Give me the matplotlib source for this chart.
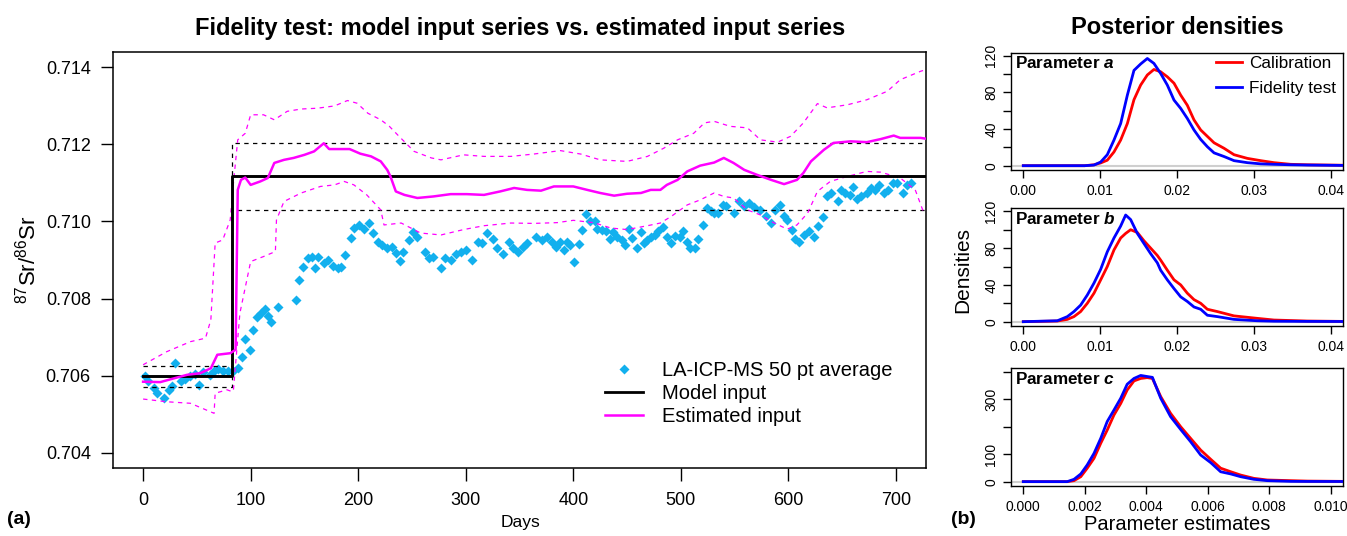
import numpy as np
import matplotlib
matplotlib.use("Agg")
import matplotlib.pyplot as plt
from matplotlib.lines import Line2D

plt.rcParams['font.family'] = ['Liberation Sans', 'DejaVu Sans']
plt.rcParams['mathtext.fontset'] = 'custom'
plt.rcParams['mathtext.rm'] = 'Liberation Sans'
plt.rcParams['mathtext.it'] = 'Liberation Sans:italic'
plt.rcParams['mathtext.bf'] = 'Liberation Sans:bold'
try:
    plt.rcParams['mathtext.bfit'] = 'Liberation Sans:italic:bold'
except KeyError:
    pass

# ---------------- data: main panel ----------------
meas_days = [2, 5, 10, 13, 19, 24, 27, 30, 35, 39, 44, 48, 52, 56, 62, 66, 70, 74, 79, 84,
             88, 92, 95, 99, 102, 106, 110, 113, 116, 119, 125, 142, 145, 149, 153, 157, 160, 163, 168, 172,
             177, 181, 184, 188, 193, 196, 201, 205, 210, 214, 218, 222, 227, 231, 235, 239, 242, 247, 251, 255,
             262, 266, 270, 277, 281, 286, 291, 296, 300, 306, 311, 315, 320, 325, 329, 335, 340, 344, 349, 353,
             357, 365, 371, 376, 380, 384, 388, 391, 394, 397, 401, 405, 408, 412, 416, 420, 422, 427, 430, 434,
             437, 441, 445, 448, 452, 455, 459, 463, 466, 469, 472, 476, 479, 483, 487, 491, 495, 499, 502, 506,
             509, 513, 516, 521, 524, 528, 531, 535, 539, 542, 549, 554, 559, 563, 568, 574, 579, 584, 588, 592,
             596, 599, 603, 606, 610, 615, 619, 624, 628, 632, 636, 640, 646, 649, 653, 657, 660, 664, 668, 673,
             677, 681, 684, 689, 693, 697, 701, 707, 710, 714]
meas_vals = [0.70598, 0.70585, 0.70567, 0.70554, 0.70541, 0.70563, 0.70573, 0.70632, 0.70585, 0.70591,
             0.70598, 0.70604, 0.70576, 0.70608, 0.70602, 0.70611, 0.70617, 0.70613, 0.70611, 0.70611,
             0.70619, 0.70649, 0.70695, 0.70667, 0.70717, 0.70752, 0.70762, 0.70773, 0.70755, 0.70740,
             0.70778, 0.70795, 0.70849, 0.70883, 0.70905, 0.70908, 0.70879, 0.70908, 0.70892, 0.70901,
             0.70885, 0.70880, 0.70882, 0.70914, 0.70957, 0.70983, 0.70991, 0.70980, 0.70996, 0.70970,
             0.70948, 0.70940, 0.70931, 0.70935, 0.70918, 0.70898, 0.70922, 0.70951, 0.70973, 0.70961,
             0.70920, 0.70905, 0.70909, 0.70879, 0.70905, 0.70901, 0.70916, 0.70922, 0.70927, 0.70901,
             0.70948, 0.70944, 0.70970, 0.70954, 0.70931, 0.70916, 0.70948, 0.70931, 0.70920, 0.70935,
             0.70944, 0.70961, 0.70953, 0.70961, 0.70948, 0.70935, 0.70948, 0.70927, 0.70948, 0.70940,
             0.70896, 0.70942, 0.70977, 0.71020, 0.71000, 0.71000, 0.70980, 0.70977, 0.70974, 0.70954,
             0.70972, 0.70961, 0.70953, 0.70940, 0.70980, 0.70957, 0.70931, 0.70972, 0.70945, 0.70953,
             0.70961, 0.70966, 0.70974, 0.70986, 0.70961, 0.70944, 0.70963, 0.70961, 0.70974, 0.70948,
             0.70931, 0.70931, 0.70954, 0.70990, 0.71035, 0.71026, 0.71022, 0.71023, 0.71043, 0.71039,
             0.71023, 0.71052, 0.71039, 0.71048, 0.71037, 0.71029, 0.71013, 0.70997, 0.71029, 0.71043,
             0.71013, 0.71004, 0.70978, 0.70954, 0.70948, 0.70966, 0.70974, 0.70961, 0.70987, 0.71011,
             0.71067, 0.71074, 0.71052, 0.71081, 0.71074, 0.71069, 0.71089, 0.71058, 0.71067, 0.71074,
             0.71087, 0.71082, 0.71095, 0.71074, 0.71081, 0.71101, 0.71101, 0.71074, 0.71095, 0.71101]

# model input (step) and its dashed bounds
model_days = [0, 83, 83, 730]
model_vals = [0.70598, 0.70598, 0.71118, 0.71118]
model_up = [0.70625, 0.70625, 0.71204, 0.71204]
model_lo = [0.70569, 0.70569, 0.71030, 0.71030]

# estimated input series
est_days = [0, 16, 29, 41, 53, 63, 69, 81, 86, 88, 91, 95, 100, 109, 116, 122, 131, 140, 150, 159,
            168, 173, 184, 192, 202, 212, 221, 227, 230, 235, 243, 255, 270, 286, 301, 317, 332, 345, 357, 370,
            382, 400, 413, 425, 438, 450, 463, 472, 481, 487, 497, 506, 518, 531, 540, 549, 559, 571, 584, 596,
            608, 614, 621, 633, 642, 658, 673, 686, 698, 704, 723, 730]
est_vals = [0.70584, 0.70583, 0.70593, 0.70602, 0.70606, 0.70619, 0.70654, 0.70658, 0.70667, 0.71082,
            0.71108, 0.71114, 0.71095, 0.71104, 0.71113, 0.71152, 0.71160, 0.71165, 0.71173, 0.71182,
            0.71203, 0.71188, 0.71188, 0.71188, 0.71176, 0.71169, 0.71156, 0.71134, 0.71117, 0.71078,
            0.71069, 0.71061, 0.71065, 0.71071, 0.71071, 0.71069, 0.71078, 0.71087, 0.71082, 0.71080,
            0.71091, 0.71091, 0.71082, 0.71074, 0.71067, 0.71072, 0.71074, 0.71082, 0.71082, 0.71095,
            0.71108, 0.71130, 0.71145, 0.71153, 0.71165, 0.71152, 0.71134, 0.71121, 0.71108, 0.71097,
            0.71108, 0.71126, 0.71156, 0.71186, 0.71204, 0.71208, 0.71206, 0.71214, 0.71223, 0.71217,
            0.71217, 0.71214]

est_up_days = [0, 22, 44, 58, 63, 67, 74, 81, 84, 88, 95, 100, 112, 122, 134, 147, 162, 178, 190, 199,
               209, 221, 229, 238, 252, 268, 277, 298, 317, 342, 363, 388, 407, 425, 450, 469, 484, 497, 512, 522,
               531, 546, 562, 574, 590, 602, 614, 627, 636, 655, 673, 692, 704, 723, 730]
est_up_vals = [0.70628, 0.70662, 0.70688, 0.70697, 0.70745, 0.70944, 0.70952, 0.71004, 0.71100, 0.71212,
               0.71229, 0.71277, 0.71277, 0.71264, 0.71286, 0.71292, 0.71294, 0.71300, 0.71314, 0.71307,
               0.71281, 0.71264, 0.71247, 0.71221, 0.71182, 0.71165, 0.71160, 0.71173, 0.71169, 0.71169,
               0.71175, 0.71184, 0.71175, 0.71160, 0.71156, 0.71169, 0.71190, 0.71212, 0.71229, 0.71256,
               0.71260, 0.71247, 0.71243, 0.71212, 0.71206, 0.71221, 0.71256, 0.71306, 0.71295, 0.71303,
               0.71316, 0.71338, 0.71368, 0.71390, 0.71396]

est_lo_days = [0, 22, 44, 66, 67, 78, 83, 84, 90, 100, 112, 123, 124, 131, 147, 165, 178, 187, 196, 208,
               221, 224, 240, 258, 277, 298, 317, 342, 363, 385, 400, 419, 435, 450, 469, 481, 491, 506, 518, 531,
               540, 549, 562, 574, 584, 599, 608, 618, 627, 639, 655, 673, 686, 704, 718, 726]
est_lo_vals = [0.70539, 0.70532, 0.70528, 0.70502, 0.70554, 0.70563, 0.70558, 0.70563, 0.70762, 0.70896,
               0.70909, 0.70922, 0.71004, 0.71052, 0.71074, 0.71091, 0.71095, 0.71104, 0.71095, 0.71069,
               0.71030, 0.70991, 0.70996, 0.70970, 0.70965, 0.70979, 0.70989, 0.70996, 0.70995, 0.70997,
               0.71003, 0.70997, 0.70983, 0.70979, 0.70989, 0.70996, 0.71013, 0.71043, 0.71056, 0.71074,
               0.71065, 0.71061, 0.71030, 0.71017, 0.71000, 0.70980, 0.70991, 0.71022, 0.71078, 0.71104,
               0.71117, 0.71130, 0.71128, 0.71113, 0.71082, 0.71022]

# ---------------- data: posterior densities ----------------
a_x = [0.0, 0.00798, 0.0092, 0.01007, 0.01093, 0.0118, 0.01267, 0.01354, 0.0144, 0.01527, 0.01614,
       0.017, 0.01787, 0.01874, 0.01961, 0.02048, 0.02134, 0.02221, 0.02308, 0.02395, 0.02482, 0.02612,
       0.02742, 0.02915, 0.03089, 0.03262, 0.03479, 0.03696, 0.04165]
a_cal = [0, 0, 1, 3, 6, 15, 28, 46, 72, 88, 99, 105, 102.5, 97, 90, 77, 66, 50, 39, 32, 25, 19, 12, 8,
         5.5, 3.3, 1.5, 1, 0.5]
a_fid = [0, 0, 0.7, 4, 12, 28, 46, 77, 104, 111, 117, 111.6, 100.7, 88, 71.6, 62.5, 51.6, 39, 28.7,
         20.7, 14, 10, 5.5, 3.3, 2, 1.5, 1.0, 0.7, 0.3]

b_x = [0.0, 0.00443, 0.00573, 0.00659, 0.00746, 0.00833, 0.0092, 0.01007, 0.01093, 0.0118, 0.01267,
       0.01332, 0.01397, 0.01484, 0.0157, 0.01657, 0.01744, 0.01787, 0.01874, 0.01961, 0.02048, 0.02134,
       0.02221, 0.02308, 0.02395, 0.02525, 0.02742, 0.03046, 0.03262, 0.03696, 0.04165]
b_cal = [0, 0.7, 2.5, 5.5, 11, 20, 31, 45.5, 60, 78, 91, 96, 100, 97, 88, 80, 72, 67, 56, 45.5, 40, 31,
         24, 20, 13.5, 11, 6.3, 3.6, 1.8, 0.7, 0.3]
b_fid = [0, 1, 5.5, 11, 18, 29, 42, 57, 76, 91, 104, 116, 111, 96, 85, 74, 64, 56, 45.5, 36, 27, 22,
         16, 13.5, 7, 5.5, 2.5, 1, 0.5, 0.3, 0.2]

c_x = [0.0, 0.00143, 0.00165, 0.00187, 0.00208, 0.0023, 0.00252, 0.00273, 0.00295, 0.00317, 0.00338,
       0.0036, 0.00382, 0.00403, 0.0042, 0.00447, 0.00479, 0.00512, 0.00544, 0.00577, 0.0061, 0.00642,
       0.00675, 0.00707, 0.0075, 0.00794, 0.0087, 0.00924, 0.01041]
c_cal = [0, 0, 3.6, 18, 49, 85, 140, 188, 243, 285, 334, 367, 376, 379, 376, 310, 249, 200, 158, 115,
         81, 49, 36, 24, 12, 6, 3.6, 2, 1]
c_fid = [0, 0, 8.5, 28, 61, 103, 158, 219, 261, 304, 355, 376, 387, 383, 380, 304, 237, 190, 146, 97,
         69, 36, 28, 18, 8.5, 3.6, 1, 0.7, 0.5]

main_xticks = [0, 100, 200, 300, 400, 500, 600, 700]
main_yticks = [0.704, 0.706, 0.708, 0.710, 0.712, 0.714]

# ---------------- figure ----------------
W, H = 1347, 536
fig = plt.figure(figsize=(W / 100, H / 100), dpi=100)

def fx(px):
    return px / W

def fy(py):
    return 1 - py / H

CYAN = '#12B0EE'
MAG = '#FF00FF'
RED = '#FF0000'
BLUE = '#0000FF'

ax = fig.add_axes([fx(113), fy(468), fx(926) - fx(113), fy(52) - fy(468)])
ax.plot(meas_days, meas_vals, 'D', color=CYAN, ms=5.2, mec='none', zorder=2)
ax.plot(model_days, model_up, color='black', lw=0.9, ls=(0, (3.5, 3.5)), zorder=3)
ax.plot(model_days, model_lo, color='black', lw=0.9, ls=(0, (3.5, 3.5)), zorder=3)
ax.plot(est_up_days, est_up_vals, color=MAG, lw=0.9, ls=(0, (3.5, 3.5)), zorder=3)
ax.plot(est_lo_days, est_lo_vals, color=MAG, lw=0.9, ls=(0, (3.5, 3.5)), zorder=3)
ax.plot(model_days, model_vals, color='black', lw=2.1, zorder=4)
ax.plot(est_days, est_vals, color=MAG, lw=1.8, zorder=5)
ax.set_xlim(-28, 728)
ax.set_ylim(0.7036, 0.7144)
ax.set_xticks(main_xticks)
ax.set_yticks(main_yticks)
ax.set_yticklabels([f'{v:.3f}' for v in main_yticks])
ax.tick_params(axis='both', direction='out', length=9, width=1, labelsize=13)
ax.tick_params(axis='x', pad=8)
ax.tick_params(axis='y', pad=7)
for s in ax.spines.values():
    s.set_linewidth(1.1)

handles = [Line2D([], [], ls='none', marker='D', ms=5.2, color=CYAN, mec='none'),
           Line2D([], [], color='black', lw=2.0),
           Line2D([], [], color=MAG, lw=1.8)]
leg = ax.legend(handles, ['LA-ICP-MS 50 pt average', 'Model input', 'Estimated input'],
                loc='upper left', bbox_to_anchor=((605 - 113) / 813, (468 - 361) / 416),
                frameon=False, fontsize=14.5, borderpad=0, borderaxespad=0,
                handlelength=1.9, handletextpad=0.95, labelspacing=0.2)

fig.text(fx(520), fy(28), 'Fidelity test: model input series vs. estimated input series',
         ha='center', va='center', fontsize=17, fontweight='bold')
fig.text(fx(28), fy(260), r'$^{87}$Sr/$^{86}$Sr', rotation=90, ha='center', va='center', fontsize=16)
fig.text(fx(521), fy(523), 'Days', ha='center', va='center', fontsize=12.5)
fig.text(fx(19), fy(520), '(a)', ha='center', va='center', fontsize=14, fontweight='bold')

# ---------------- density panels ----------------
panels = [
    (52.7, 170.0, a_x, a_cal, a_fid, (-0.0016, 0.0416), (-4.7, 123.3),
     [0, 0.01, 0.02, 0.03, 0.04], ['0.00', '0.01', '0.02', '0.03', '0.04'],
     [0, 20, 40, 60, 80, 100, 120], ['0', '', '40', '', '80', '', '120'], 'a'),
    (208.3, 326.0, b_x, b_cal, b_fid, (-0.0016, 0.0416), (-4.7, 123.3),
     [0, 0.01, 0.02, 0.03, 0.04], ['0.00', '0.01', '0.02', '0.03', '0.04'],
     [0, 20, 40, 60, 80, 100, 120], ['0', '', '40', '', '80', '', '120'], 'b'),
    (368.3, 486.0, c_x, c_cal, c_fid, (-0.0004, 0.0104), (-15.9, 413),
     [0, 0.002, 0.004, 0.006, 0.008, 0.010], ['0.000', '0.002', '0.004', '0.006', '0.008', '0.010'],
     [0, 100, 200, 300, 400], ['0', '100', '', '300', ''], 'c'),
]
for i, (top, bot, xs, cal, fid, xl, yl, xt, xtl, yt, ytl, name) in enumerate(panels):
    pa = fig.add_axes([fx(1011), fy(bot), fx(1343) - fx(1011), fy(top) - fy(bot)])
    pa.axhline(0, color='#cfcfcf', lw=1.5, zorder=1)
    l1, = pa.plot(xs, cal, color=RED, lw=2.0, zorder=3)
    l2, = pa.plot(xs, fid, color=BLUE, lw=2.0, zorder=4)
    pa.set_xlim(*xl)
    pa.set_ylim(*yl)
    pa.set_xticks(xt)
    pa.set_xticklabels(xtl)
    pa.set_yticks(yt)
    pa.set_yticklabels(ytl, rotation=90, va='center')
    pa.tick_params(axis='both', direction='out', length=6, width=1, labelsize=10)
    pa.tick_params(axis='x', pad=4)
    pa.tick_params(axis='y', pad=3)
    for s in pa.spines.values():
        s.set_linewidth(1.0)
    pa.text(0.012, 0.912, r'Parameter $\mathbfit{' + name + '}$', transform=pa.transAxes,
            ha='left', va='center', fontsize=12.3, fontweight='bold')
    if i == 0:
        pa.legend([l1, l2], ['Calibration', 'Fidelity test'], loc='upper left',
                  bbox_to_anchor=((1216 - 1011) / 332, 0.97), frameon=False, fontsize=12.3,
                  borderpad=0, borderaxespad=0, handlelength=1.55, handletextpad=0.4,
                  labelspacing=0.55)

fig.text(fx(1177), fy(28), 'Posterior densities', ha='center', va='center', fontsize=17,
         fontweight='bold')
fig.text(fx(963), fy(270), 'Densities', rotation=90, ha='center', va='center', fontsize=15)
fig.text(fx(1177), fy(525), 'Parameter estimates', ha='center', va='center', fontsize=14.5)
fig.text(fx(963), fy(520), '(b)', ha='center', va='center', fontsize=14, fontweight='bold')

fig.savefig('out.png', dpi=100)
